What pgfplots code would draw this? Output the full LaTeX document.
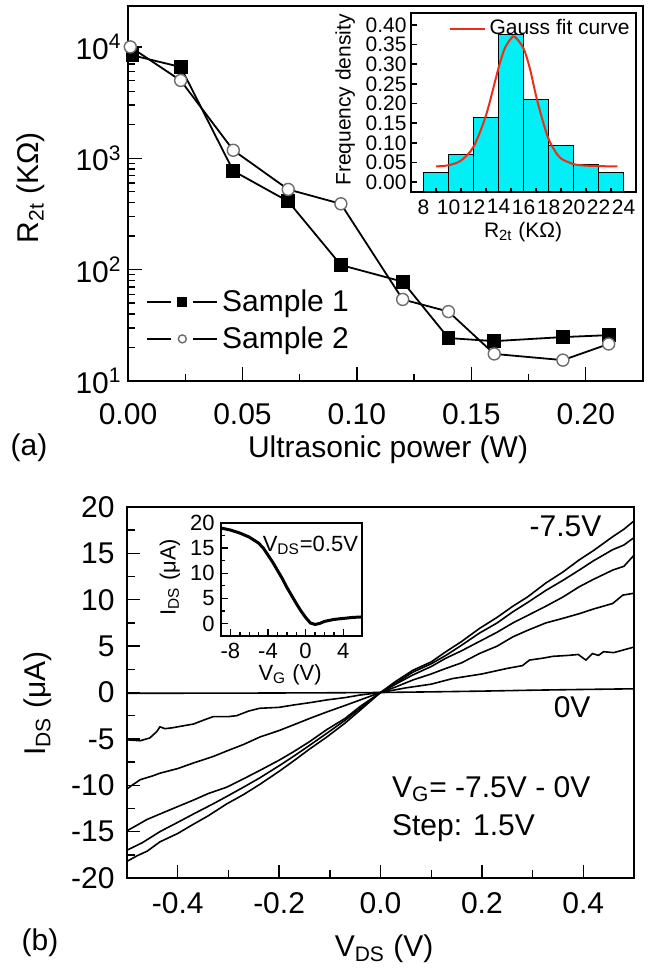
\documentclass[border=0pt]{standalone}
\usepackage{fontspec}
\setmainfont{Liberation Sans}
\usepackage{pgfplots}
\pgfplotsset{compat=1.18}

\definecolor{histcyan}{RGB}{0,240,245}
\definecolor{fitred}{RGB}{235,45,25}

\newcommand\fm{\fontsize{15}{18}\selectfont}
\newcommand\fa{\fontsize{10.5}{12}\selectfont}
\newcommand\fb{\fontsize{11}{13}\selectfont}

\pgfplotsset{
  base/.style={scale only axis, axis line style={line width=0.9pt},
    tick style={line width=0.7pt, black}, tick align=inside, tick pos=left,
    /pgf/number format/assume math mode=true},
}

\begin{document}
\begin{tikzpicture}
\useasboundingbox (0,0) rectangle (324.5pt,-486pt);

% ---------- (a) main
\begin{axis}[base, at={(64pt,-190.5pt)}, anchor=south west,
  width=257.5pt, height=187.5pt,
  ymode=log, xmin=0, xmax=0.225, ymin=10, ymax=23300,
  xtick={0,0.05,0.1,0.15,0.2}, minor x tick num=1,
  ytick={10,100,1000,10000},
  yticklabels={10\textsuperscript{1},10\textsuperscript{2},10\textsuperscript{3},10\textsuperscript{4}},
  major tick length=7pt, minor tick length=3.5pt,
  ticklabel style={font=\fm},
  xticklabel style={inner sep=0pt, yshift=-11pt, /pgf/number format/.cd, fixed, fixed zerofill, precision=2},
  yticklabel style={inner sep=0pt, xshift=-3pt},
  xlabel={Ultrasonic power (W)},
  xlabel style={at={(axis description cs:0.505,-0.184)}, anchor=center, font=\fm},
  ylabel={R\textsubscript{2t} (KΩ)},
  ylabel style={at={(axis description cs:-0.188,0.515)}, anchor=center, font=\fm},
  legend style={draw=none, fill=none, at={(axis description cs:0.035,0.255)}, anchor=north west,
    font=\fm, inner sep=0pt, row sep=2pt},
  legend cell align=left,
  legend image code/.code={
    \draw[#1] (0pt,0pt)--(12pt,0pt);
    \draw[#1] (23pt,0pt)--(35pt,0pt);
    \draw[#1, mark size=2pt] plot coordinates {(17.5pt,0pt)};},
]
\addplot[black, line width=0.9pt, mark=square*, mark size=3pt] coordinates {
  (0.002,8400) (0.023,6600) (0.046,770) (0.07,410) (0.093,110)
  (0.12,78) (0.14,24.3) (0.16,22.8) (0.19,24.8) (0.21,25.8)};
\addlegendentry{Sample 1}
\addplot[black, line width=0.9pt, mark=*, mark size=3pt,
  mark options={fill=white, draw=gray!85!black, line width=0.7pt}] coordinates {
  (0.001,10000) (0.023,5000) (0.046,1180) (0.07,525) (0.093,390)
  (0.12,54) (0.14,42) (0.16,17.5) (0.19,15.4) (0.21,21.5)};
\addlegendentry{Sample 2}
\end{axis}

% ---------- (a) inset
\begin{axis}[base, at={(205.5pt,-96pt)}, anchor=south west,
  width=112.5pt, height=89.5pt, axis on top,
  xmin=7, xmax=25, ymin=-0.025, ymax=0.43,
  y coord trafo/.code={\pgfmathparse{#1+0.025}},
  y coord inv trafo/.code={\pgfmathparse{#1-0.025}},
  xtick={8,10,12,14,16,18,20,22,24}, minor x tick num=1,
  ytick={0,0.05,0.1,0.15,0.2,0.25,0.3,0.35,0.4},
  yticklabels={0.00,0.05,0.10,0.15,0.20,0.25,0.30,0.35,0.40},
  major tick length=3pt, minor tick length=1.8pt,
  ticklabel style={font=\fa},
  xticklabel style={inner sep=0pt, yshift=-3.5pt},
  yticklabel style={inner sep=0pt, xshift=-2pt},
  xlabel={R\textsubscript{2t} (KΩ)},
  xlabel style={at={(axis description cs:0.498,-0.225)}, anchor=center, font=\fa},
  ylabel={Frequency density},
  ylabel style={at={(axis description cs:-0.293,0.514)}, anchor=center, font=\fa},
  legend style={draw=none, fill=none, at={(axis description cs:1,1)}, anchor=north east,
    font=\fa, inner sep=1pt},
]
\addplot[ybar interval, fill=histcyan, draw=black, line width=0.5pt, forget plot]
  coordinates {(8,0.025) (10,0.07) (12,0.165) (14,0.375) (16,0.21) (18,0.092) (20,0.045) (22,0.025) (24,0.025)};
\addplot[fitred, line width=1pt, smooth] coordinates {
  (9,0.04) (10,0.043) (11,0.055) (12,0.09) (13,0.17) (14,0.29) (14.5,0.34)
  (15,0.365) (15.3,0.37) (16,0.34) (16.5,0.29) (17,0.22) (17.5,0.16) (18,0.11)
  (18.5,0.08) (19,0.06) (20,0.046) (21,0.042) (22,0.041) (23,0.04) (23.5,0.04)};
\addlegendentry{Gauss fit curve}
\end{axis}

% ---------- (b) main
\begin{axis}[base, at={(63.5pt,-439pt)}, anchor=south west,
  width=253.5pt, height=185.5pt,
  xmin=-0.5, xmax=0.5, ymin=-20, ymax=20,
  xtick={-0.4,-0.2,0,0.2,0.4}, minor x tick num=1,
  ytick={-20,-15,-10,-5,0,5,10,15,20}, minor y tick num=1,
  major tick length=6.5pt, minor tick length=4pt,
  ticklabel style={font=\fm},
  xticklabel style={inner sep=0pt, yshift=-7pt, /pgf/number format/.cd, fixed, fixed zerofill, precision=1},
  yticklabel style={inner sep=0pt, xshift=-6pt},
  xlabel={V\textsubscript{DS} (V)},
  xlabel style={at={(axis description cs:0.507,-0.19)}, anchor=center, font=\fm},
  ylabel={I\textsubscript{DS} (μA)},
  ylabel style={at={(axis description cs:-0.176,0.47)}, anchor=center, font=\fm},
]
\addplot[black, line width=0.8pt] coordinates {
  (-0.5,-18.2) (-0.48,-17.6) (-0.46,-17.1) (-0.435,-16.1) (-0.40,-15.2) (-0.369,-14.2)
  (-0.34,-13.3) (-0.303,-12.0) (-0.27,-11.0) (-0.238,-9.9) (-0.2,-8.5) (-0.172,-7.4)
  (-0.14,-6.1) (-0.106,-4.8) (-0.07,-3.3) (-0.04,-1.9) (0,0) (0.03,1.2) (0.064,2.4)
  (0.1,3.3) (0.129,4.4) (0.16,5.5) (0.195,6.9) (0.23,8.1) (0.261,9.3) (0.29,10.3)
  (0.326,11.8) (0.36,13.0) (0.392,14.3) (0.42,15.3) (0.458,16.8) (0.48,17.6) (0.5,18.5)};
\addplot[black, line width=0.8pt] coordinates {
  (-0.5,-17.0) (-0.47,-16.2) (-0.435,-15.0) (-0.40,-14.0) (-0.369,-13.1) (-0.33,-12.0)
  (-0.303,-11.2) (-0.27,-10.2) (-0.238,-9.2) (-0.2,-7.9) (-0.172,-6.9) (-0.14,-5.7)
  (-0.106,-4.4) (-0.07,-3.0) (-0.04,-1.7) (0,0) (0.03,1.0) (0.064,2.2) (0.1,3.1)
  (0.129,4.0) (0.16,5.1) (0.195,6.4) (0.23,7.5) (0.261,8.7) (0.29,9.7) (0.326,11.0)
  (0.36,12.1) (0.392,13.2) (0.42,14.2) (0.458,15.4) (0.48,15.9) (0.5,16.7)};
\addplot[black, line width=0.8pt] coordinates {
  (-0.5,-14.9) (-0.48,-14.3) (-0.461,-13.7) (-0.435,-13.1) (-0.40,-12.3) (-0.369,-11.6)
  (-0.34,-10.9) (-0.303,-10.2) (-0.27,-9.3) (-0.238,-8.4) (-0.2,-7.3) (-0.172,-6.4)
  (-0.14,-5.3) (-0.106,-4.0) (-0.07,-2.8) (-0.04,-1.5) (0,0) (0.03,0.9) (0.064,1.9)
  (0.1,2.8) (0.129,3.7) (0.16,4.5) (0.195,5.5) (0.23,6.5) (0.261,7.5) (0.29,8.3)
  (0.326,9.3) (0.36,10.3) (0.392,11.4) (0.42,12.2) (0.458,13.2) (0.48,13.6) (0.5,14.8)};
\addplot[black, line width=0.8pt] coordinates {
  (-0.5,-10.4) (-0.49,-10.0) (-0.474,-9.4) (-0.45,-9.0) (-0.435,-8.7) (-0.40,-8.2)
  (-0.369,-7.6) (-0.33,-6.9) (-0.303,-6.3) (-0.27,-5.6) (-0.238,-4.8) (-0.2,-4.1)
  (-0.172,-3.5) (-0.14,-2.8) (-0.106,-2.1) (-0.07,-1.4) (-0.04,-0.8) (0,0) (0.03,0.6)
  (0.064,1.35) (0.1,2.0) (0.129,2.6) (0.16,3.2) (0.195,4.2) (0.23,5.0) (0.261,6.0)
  (0.29,6.7) (0.326,7.5) (0.36,8.0) (0.392,8.5) (0.42,9.0) (0.458,9.6) (0.478,10.5) (0.5,10.7)};
\addplot[black, line width=0.8pt] coordinates {
  (-0.5,-5.1) (-0.474,-5.2) (-0.455,-4.9) (-0.441,-4.2) (-0.435,-3.7) (-0.425,-3.9)
  (-0.41,-3.8) (-0.39,-3.6) (-0.369,-3.4) (-0.35,-3.0) (-0.33,-2.6) (-0.3,-2.6)
  (-0.284,-2.5) (-0.26,-2.0) (-0.238,-1.7) (-0.2,-1.6) (-0.172,-1.35) (-0.14,-1.1)
  (-0.106,-0.8) (-0.07,-0.55) (-0.04,-0.27) (0,0) (0.05,0.5) (0.1,0.9) (0.142,1.5)
  (0.2,2.0) (0.25,2.6) (0.28,2.9) (0.294,3.5) (0.32,3.7) (0.34,3.9) (0.37,4.0)
  (0.39,4.1) (0.405,3.5) (0.418,4.2) (0.43,4.0) (0.44,4.4) (0.46,4.3) (0.48,4.6) (0.5,4.9)};
\addplot[black, line width=0.8pt] coordinates {
  (-0.5,-0.08) (-0.3,-0.07) (-0.1,-0.03) (0,0) (0.1,0.07) (0.2,0.15) (0.3,0.25) (0.4,0.33) (0.5,0.4)};
\node[font=\fm, anchor=base] at (axis cs:0.365,16.8) {-7.5V};
\node[font=\fm, anchor=base] at (axis cs:0.378,-2.7) {0V};
\node[font=\fm, anchor=base west, inner sep=0pt] at (axis cs:0.022,-11.27) {V\textsubscript{G}= -7.5V - 0V};
\node[font=\fm, anchor=base west, inner sep=0pt] at (axis cs:0.022,-15.47) {Step: 1.5V};
\end{axis}

% ---------- (b) inset
\begin{axis}[base, at={(110.5pt,-318pt)}, anchor=south west,
  width=70.5pt, height=56.5pt,
  xmin=-9, xmax=6, ymin=-2.5, ymax=20,
  xtick={-8,-4,0,4}, minor x tick num=3,
  ytick={0,5,10,15,20}, minor y tick num=1,
  major tick length=3.5pt, minor tick length=2pt,
  ticklabel style={font=\fb},
  xticklabel style={inner sep=0pt, yshift=-3.5pt},
  yticklabel style={inner sep=0pt, xshift=-3pt},
  xlabel={V\textsubscript{G} (V)},
  xlabel style={at={(axis description cs:0.49,-0.345)}, anchor=center, font=\fb},
  ylabel={I\textsubscript{DS} (μA)},
  ylabel style={at={(axis description cs:-0.362,0.52)}, anchor=center, font=\fb},
]
\addplot[black, line width=1.5pt] coordinates {
  (-9,19) (-8.5,18.8) (-8,18.6) (-7,18) (-6,17.2) (-5,16) (-4.5,15) (-4,13.6)
  (-3.5,12.2) (-3,10.6) (-2.5,9) (-2,7.2) (-1.5,5.6) (-1,4) (-0.5,2.5) (0,1.2)
  (0.5,0.1) (1,-0.2) (1.5,0) (2,0.4) (3,0.8) (4,1) (5,1.2) (6,1.3)};
\node[font=\fb, anchor=base west, inner sep=0pt] at (axis cs:-4.6,14.4) {V\textsubscript{DS}=0.5V};
\end{axis}

\node[font=\fm] at (14.5pt,-224pt) {(a)};
\node[font=\fm] at (20pt,-471.5pt) {(b)};
\end{tikzpicture}
\end{document}
